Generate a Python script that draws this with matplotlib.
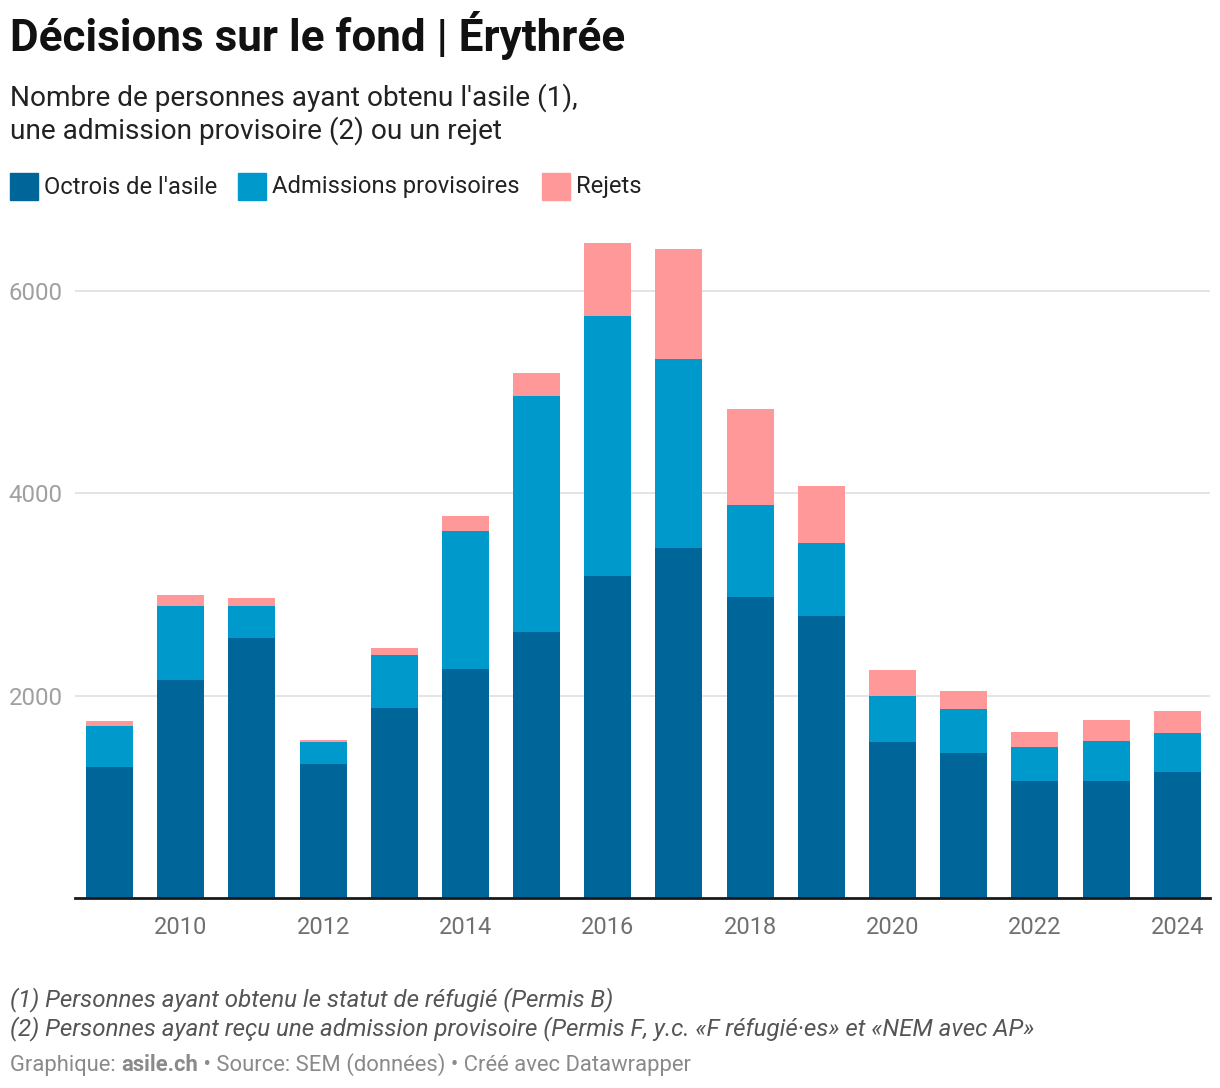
import matplotlib
matplotlib.use("Agg")
import matplotlib.pyplot as plt
from matplotlib.patches import Rectangle

plt.rcParams['font.family'] = ['Roboto', 'DejaVu Sans']

years = [2009, 2010, 2011, 2012, 2013, 2014, 2015, 2016,
         2017, 2018, 2019, 2020, 2021, 2022, 2023, 2024]
octrois = [1294, 2153, 2568, 1323, 1877, 2262, 2627, 3180,
           3457, 2973, 2785, 1541, 1432, 1156, 1156, 1244]
admissions = [405, 731, 316, 218, 523, 1363, 2331, 2568,
              1866, 908, 721, 454, 435, 335, 395, 386]
rejets = [49, 109, 79, 19, 69, 148, 227, 721,
          1087, 949, 563, 257, 177, 149, 207, 217]
series_names = ["Octrois de l'asile", "Admissions provisoires", "Rejets"]
colors = ["#006699", "#0099cc", "#ff9999"]
yticks = [2000, 4000, 6000]
xticks = [2010, 2012, 2014, 2016, 2018, 2020, 2022, 2024]

W, H = 1220, 1088
fig = plt.figure(figsize=(W / 100, H / 100), dpi=100)

def px(x, y):
    return x / W, 1 - y / H

ax = fig.add_axes([75 / W, 1 - 898 / H, (1210 - 75) / W, (898 - 240) / H])

bottom2 = [a + b for a, b in zip(octrois, admissions)]
ax.bar(years, octrois, width=0.66, color=colors[0], zorder=3)
ax.bar(years, admissions, width=0.66, bottom=octrois, color=colors[1], zorder=3)
ax.bar(years, rejets, width=0.66, bottom=bottom2, color=colors[2], zorder=3)

ax.set_xlim(2008.515, 2024.46)
ax.set_ylim(0, 6500)
ax.set_yticks(yticks)
ax.set_yticklabels([str(t) for t in yticks])
ax.set_xticks(xticks)
ax.set_xticklabels([str(t) for t in xticks])
ax.grid(axis='y', color='#e2e2e2', linewidth=1.3, zorder=0)
for s in ['top', 'right', 'left']:
    ax.spines[s].set_visible(False)
ax.spines['bottom'].set_color('#1a1a1a')
ax.spines['bottom'].set_linewidth(2)
ax.spines['bottom'].set_zorder(4)
ax.tick_params(axis='y', length=0, pad=9, labelsize=17.3, labelcolor='#a0a0a0')
ax.tick_params(axis='x', length=0, pad=13, labelsize=17, labelcolor='#707070')

# title / subtitle
fig.text(*px(10, 35), "Décisions sur le fond | Érythrée", fontsize=31.7,
         fontweight='bold', color='#111111', va='center', ha='left')
fig.text(*px(10, 98), "Nombre de personnes ayant obtenu l'asile (1),", fontsize=20.2,
         color='#222222', va='center', ha='left')
fig.text(*px(10, 131), "une admission provisoire (2) ou un rejet", fontsize=20.2,
         color='#222222', va='center', ha='left')

# legend
leg_x = [10, 238, 542]
for lx, name, c in zip(leg_x, series_names, colors):
    x0, y0 = px(lx, 200)
    fig.patches.append(Rectangle((x0, y0), 28 / W, 27 / H, transform=fig.transFigure,
                                 color=c, figure=fig))
    fig.text(*px(lx + 34, 187), name, fontsize=17.1, color='#222222',
             va='center', ha='left')

# footnotes
fig.text(*px(10, 1000), "(1) Personnes ayant obtenu le statut de réfugié (Permis B)",
         fontsize=17.4, style='italic', color='#555555', va='center', ha='left')
fig.text(*px(10, 1029),
         "(2) Personnes ayant reçu une admission provisoire (Permis F, y.c. «F réfugié·es» et «NEM avec AP»",
         fontsize=17.4, style='italic', color='#555555', va='center', ha='left')

fig.canvas.draw()
renderer = fig.canvas.get_renderer()
parts = [("Graphique: ", 'normal'), ("asile.ch", 'bold'),
         (" • Source: SEM (données) • Créé avec Datawrapper", 'normal')]
cx = 10
for txt, fw in parts:
    t = fig.text(*px(cx, 1065), txt, fontsize=15.8, fontweight=fw, color='#8a8a8a',
                 va='center', ha='left')
    bb = t.get_window_extent(renderer)
    cx += bb.width

fig.savefig("out.png", dpi=100)
